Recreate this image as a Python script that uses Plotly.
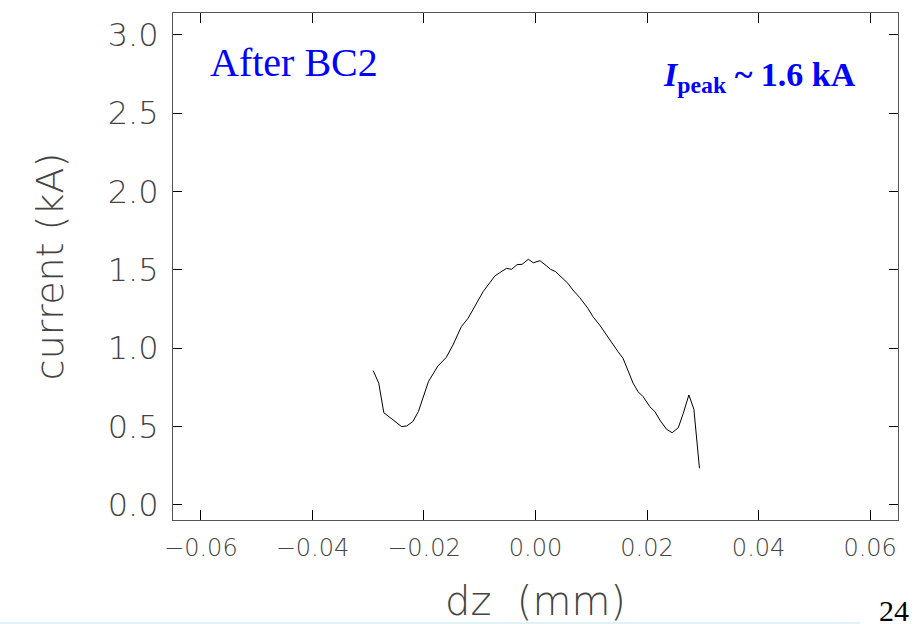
import plotly.graph_objects as go

# Data
dz_mm = [-0.0291, -0.0281, -0.0272, -0.0240, -0.0231, -0.0220, -0.0210, -0.0201,
         -0.0192, -0.0175, -0.0160, -0.0148, -0.0133, -0.0121, -0.0109, -0.0094,
         -0.0085, -0.0073, -0.0064, -0.0052, -0.0043, -0.0033, -0.0024, -0.0013,
         -0.0004, 0.0008, 0.0020, 0.0027, 0.0036, 0.0047, 0.0058, 0.0067,
         0.0079, 0.0094, 0.0103, 0.0115, 0.0127, 0.0139, 0.0148, 0.0157,
         0.0166, 0.0175, 0.0184, 0.0193, 0.0205, 0.0214, 0.0223, 0.0235,
         0.0245, 0.0256, 0.0265, 0.0275, 0.0284, 0.0294]
current_kA = [0.857, 0.777, 0.589, 0.500, 0.504, 0.532, 0.596, 0.691,
              0.787, 0.887, 0.942, 1.021, 1.138, 1.191, 1.266, 1.361,
              1.404, 1.461, 1.483, 1.510, 1.504, 1.534, 1.536, 1.568,
              1.546, 1.559, 1.525, 1.504, 1.489, 1.453, 1.415, 1.372,
              1.325, 1.255, 1.202, 1.149, 1.085, 1.021, 0.978, 0.936,
              0.862, 0.777, 0.723, 0.691, 0.627, 0.596, 0.542, 0.483,
              0.461, 0.493, 0.585, 0.702, 0.611, 0.234]

x_tickvals = [-0.06, -0.04, -0.02, 0.00, 0.02, 0.04, 0.06]
x_ticktext = ["−0.06", "−0.04", "−0.02", "0.00", "0.02", "0.04", "0.06"]
y_tickvals = [0.0, 0.5, 1.0, 1.5, 2.0, 2.5, 3.0]
y_ticktext = ["0.0", "0.5", "1.0", "1.5", "2.0", "2.5", "3.0"]

axis_line = "#555555"
text_gray = "#444444"

fig = go.Figure()
fig.add_trace(go.Scatter(x=dz_mm, y=current_kA, mode="lines",
                         line=dict(color="black", width=1), showlegend=False,
                         hoverinfo="skip"))

fig.update_layout(
    width=920, height=624,
    margin=dict(l=173, r=22, t=13, b=104, autoexpand=False),
    paper_bgcolor="white", plot_bgcolor="white",
    xaxis=dict(range=[-0.065, 0.065], tickvals=x_tickvals, ticktext=x_ticktext,
               ticks="inside", ticklen=10, tickcolor="black", tickwidth=1,
               showline=True, linecolor=axis_line, linewidth=1, mirror="ticks",
               showgrid=False, zeroline=False,
               tickfont=dict(family="DejaVu Sans", size=24, color=text_gray, weight=200),
               ticklabelstandoff=6,
               title=dict(text="dz  (mm)", standoff=38,
                          font=dict(family="DejaVu Sans", size=40, color=text_gray, weight=200))),
    yaxis=dict(range=[-0.096, 3.14], tickvals=y_tickvals, ticktext=y_ticktext,
               ticks="inside", ticklen=9, tickcolor="black", tickwidth=1,
               showline=True, linecolor=axis_line, linewidth=1, mirror="ticks",
               showgrid=False, zeroline=False,
               tickfont=dict(family="DejaVu Sans", size=32, color=text_gray, weight=200),
               ticklabelstandoff=7,
               title=dict(text="current (kA)", standoff=32,
                          font=dict(family="DejaVu Sans", size=38, color=text_gray, weight=200))),
    annotations=[
        dict(text="After BC2", xref="paper", yref="paper", x=0.048, y=0.903,
             xanchor="left", yanchor="middle", showarrow=False,
             font=dict(family="Liberation Serif", size=40, color="#0000FF")),
        dict(text="<b><i>I</i><sub>peak</sub> ~ 1.6 kA</b>", xref="paper", yref="paper",
             x=0.945, y=0.874, xanchor="right", yanchor="middle", showarrow=False,
             font=dict(family="Liberation Serif", size=34, color="#0000FF")),
        dict(text="24", xref="paper", yref="paper", x=0.971, y=-0.142,
             xanchor="left", yanchor="top", showarrow=False,
             font=dict(family="Liberation Serif", size=30, color="black")),
    ],
    shapes=[dict(type="line", xref="paper", yref="paper", x0=-0.239, x1=0.948,
                 y0=-0.203, y1=-0.203, line=dict(color="#dff3f7", width=2))],
)

fig.write_html("out.html")
